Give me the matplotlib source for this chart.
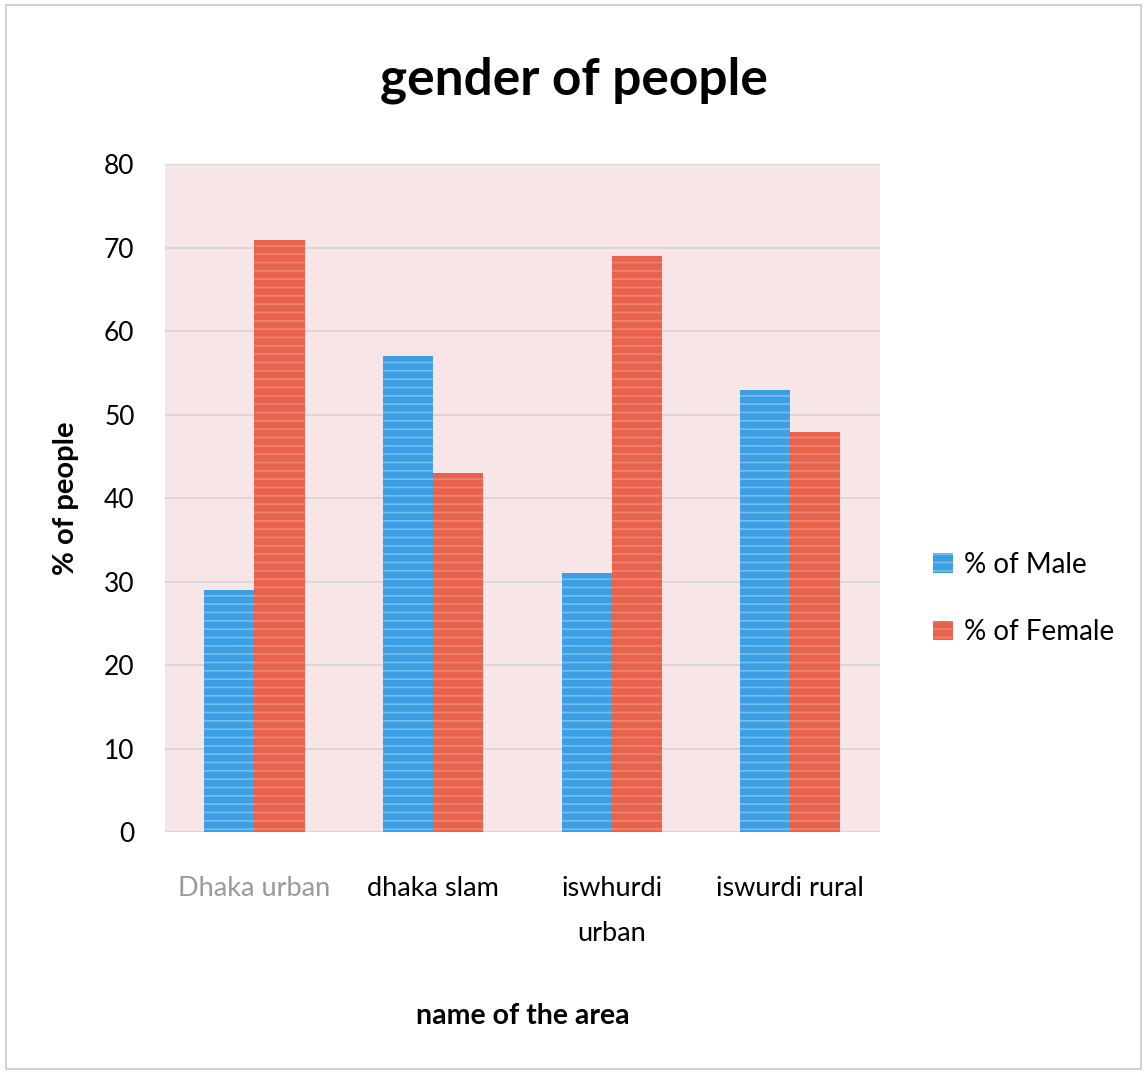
import numpy as np
import matplotlib.pyplot as plt
from matplotlib.patches import Rectangle

plt.rcParams['font.family'] = ['Lato', 'DejaVu Sans']
plt.rcParams['hatch.linewidth'] = 1.2

# share of each gender per surveyed area
AREAS = ['Dhaka urban', 'dhaka slam', 'iswhurdi\nurban', 'iswurdi rural']
MALE = [29, 57, 31, 53]
FEMALE = [71, 43, 69, 48]
Y_TICKS = [0, 10, 20, 30, 40, 50, 60, 70, 80]

BLUE = '#3d9fe3'
RED = '#e8634d'


def main():
    fig = plt.figure(figsize=(11.47, 10.75), dpi=100)
    fig.patches.append(Rectangle((0.005, 0.006), 0.99, 0.989, transform=fig.transFigure,
                                 fill=False, edgecolor='#c8c8c8', linewidth=1.2))
    ax = fig.add_axes([0.144, 0.226, 0.623, 0.621])
    ax.set_facecolor('#f7e5e7')

    x = np.arange(len(AREAS))
    w = 0.28
    ax.bar(x - w / 2, MALE, w, color=BLUE, edgecolor='#76bdf0', linewidth=0,
           hatch='--', label='% of Male', zorder=3)
    ax.bar(x + w / 2, FEMALE, w, color=RED, edgecolor='#ee8470', linewidth=0,
           hatch='--', label='% of Female', zorder=3)

    ax.set_xlim(-0.5, len(AREAS) - 0.5)
    ax.set_ylim(0, 80)
    ax.set_yticks(Y_TICKS)
    ax.grid(axis='y', color='#d9d2d3', linewidth=1.2, zorder=1)
    for s in ax.spines.values():
        s.set_visible(False)
    ax.tick_params(length=0, labelsize=19)
    ax.tick_params(axis='y', pad=22)
    ax.set_xticks(x)
    ax.set_xticklabels(AREAS, fontsize=19.5, linespacing=2.0, va='top')
    ax.tick_params(axis='x', pad=32)
    ax.get_xticklabels()[0].set_color('#9a9a9a')

    fig.text(0.5, 0.925, 'gender of people', fontsize=37, fontweight='bold',
             ha='center', va='center')
    ax.set_ylabel('% of people', fontsize=21, fontweight='bold', labelpad=18)
    ax.set_xlabel('name of the area', fontsize=20.5, fontweight='bold', labelpad=41)

    ax.legend(loc='center left', bbox_to_anchor=(1.04, 0.35), frameon=False,
              fontsize=20, handlelength=0.7, handleheight=0.7,
              labelspacing=1.5, handletextpad=0.4)

    fig.savefig('out.png')


if __name__ == '__main__':
    main()
